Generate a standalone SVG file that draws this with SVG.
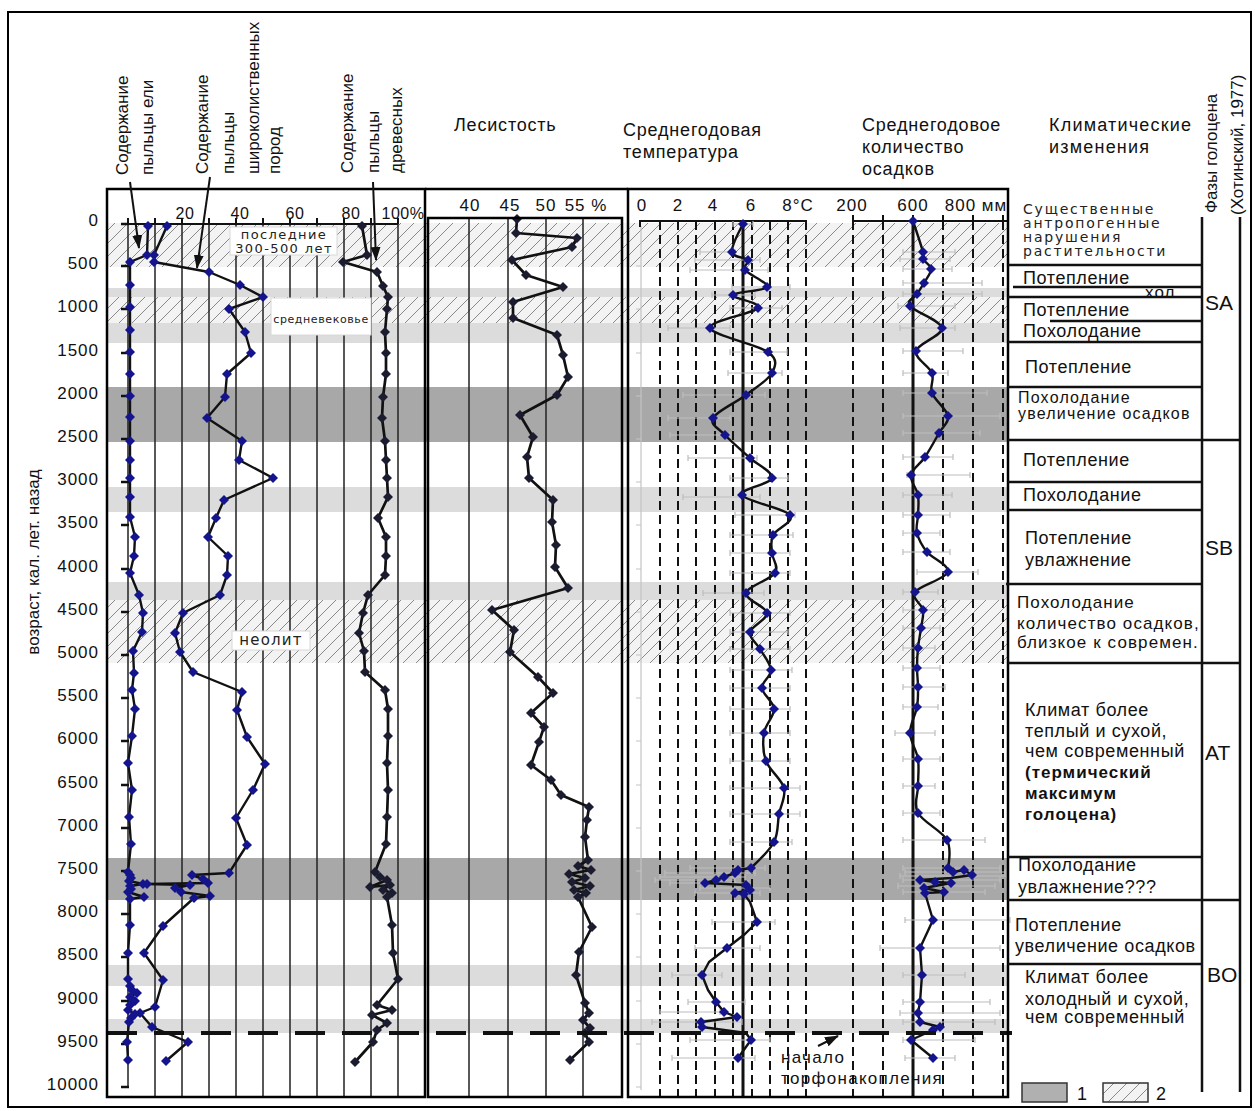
<svg xmlns="http://www.w3.org/2000/svg" width="1255" height="1111" viewBox="0 0 1255 1111">
<style>
.t{font-family:"Liberation Sans",Arial,sans-serif;fill:#111}
.h{font-size:18px;letter-spacing:0.8px}
.ax{font-size:17px;letter-spacing:1px}
.rot{font-size:17px}
.w{font-family:"DejaVu Sans",sans-serif;fill:#222}
.c18{font-size:18px;letter-spacing:0.6px}
.c17{font-size:17px;letter-spacing:1.1px}
.b{font-weight:bold;font-size:17px;letter-spacing:1px}
.grid{stroke:#222;stroke-width:1.5;fill:none}
.dash{stroke:#111;stroke-width:2;stroke-dasharray:9 5;fill:none}
.frame{fill:none;stroke:#000;stroke-width:2.5}
.err{stroke:#bdbdbd;stroke-width:1.2;fill:none}
.ln{fill:none;stroke:#111;stroke-width:2.4;stroke-linejoin:round}
.mb{marker-start:url(#mb);marker-mid:url(#mb);marker-end:url(#mb)}
.mk{marker-start:url(#mk);marker-mid:url(#mk);marker-end:url(#mk)}
.nol{fill:none;stroke:none}
.lbl{fill:#fff;stroke:#d8d8d8;stroke-width:1}
</style>
<defs>
<pattern id="hatch" patternUnits="userSpaceOnUse" width="13" height="13">
<rect width="13" height="13" fill="#f3f3f3"/>
<path d="M-1,14 L14,-1 M-2,2 L2,-2 M11,15 L15,11" stroke="#8a8a8a" stroke-width="1"/>
</pattern>
<marker id="mb" viewBox="0 0 10 10" refX="5" refY="5" markerWidth="10" markerHeight="10" markerUnits="userSpaceOnUse"><path d="M5,0L10,5L5,10L0,5Z" fill="#14148c"/></marker>
<marker id="mk" viewBox="0 0 10 10" refX="5" refY="5" markerWidth="10" markerHeight="10" markerUnits="userSpaceOnUse"><path d="M5,0L10,5L5,10L0,5Z" fill="#1c1c30"/></marker>
<marker id="arr" viewBox="0 0 14 10" refX="13" refY="5" markerWidth="14" markerHeight="10" orient="auto" markerUnits="userSpaceOnUse"><path d="M0,0L14,5L0,10Z" fill="#111"/></marker>
</defs>
<rect width="1255" height="1111" fill="#fff"/>

<g id="bands">
<rect x="107" y="223" width="901" height="44" fill="url(#hatch)"/>
<rect x="107" y="288" width="901" height="9" fill="#dcdcdc"/>
<rect x="107" y="297" width="901" height="26" fill="url(#hatch)"/>
<rect x="107" y="323" width="901" height="20" fill="#dcdcdc"/>
<rect x="107" y="387" width="901" height="55" fill="#a8a8a8"/>
<rect x="107" y="487" width="901" height="25" fill="#dcdcdc"/>
<rect x="107" y="582" width="901" height="18" fill="#dcdcdc"/>
<rect x="107" y="600" width="901" height="63" fill="url(#hatch)"/>
<rect x="107" y="858" width="901" height="42" fill="#a8a8a8"/>
<rect x="107" y="965" width="901" height="21" fill="#dcdcdc"/>
<rect x="107" y="1019" width="901" height="14" fill="#dcdcdc"/>
</g>

<g id="pollen-panel">
<path class="grid" d="M155,224V1097M182,224V1097M209,224V1097M236,224V1097M263,224V1097M290,224V1097M317,224V1097M344,224V1097M371,224V1097M398,224V1097M128,224V1087"/>
<path d="M128,224H398M128,218V224M155,218V224M182,218V224M209,218V224M236,218V224M263,218V224M290,218V224M317,218V224M344,218V224M371,218V224M398,218V224" stroke="#111" stroke-width="2" fill="none"/>
<path d="M121,224H129M121,266H129M121,309H129M121,353H129M121,396H129M121,439H129M121,482H129M121,525H129M121,569H129M121,612H129M121,655H129M121,698H129M121,741H129M121,785H129M121,828H129M121,871H129M121,914H129M121,957H129M121,1001H129M121,1044H129M121,1087H129" stroke="#111" stroke-width="2.5"/>
<g class="t ax" text-anchor="middle" style="font-size:16px;letter-spacing:0.5px">
<text x="185" y="219">20</text><text x="240" y="219">40</text><text x="295" y="219">60</text><text x="351" y="219">80</text><text x="403" y="219">100%</text>
</g>
</g>

<g id="age-axis" class="t ax" text-anchor="end">
<text x="99" y="226">0</text><text x="99" y="269">500</text><text x="99" y="312">1000</text><text x="99" y="356">1500</text><text x="99" y="399">2000</text><text x="99" y="442">2500</text><text x="99" y="485">3000</text><text x="99" y="528">3500</text><text x="99" y="572">4000</text><text x="99" y="615">4500</text><text x="99" y="658">5000</text><text x="99" y="701">5500</text><text x="99" y="744">6000</text><text x="99" y="788">6500</text><text x="99" y="831">7000</text><text x="99" y="874">7500</text><text x="99" y="917">8000</text><text x="99" y="960">8500</text><text x="99" y="1004">9000</text><text x="99" y="1047">9500</text><text x="99" y="1090">10000</text>
</g>
<text class="t" style="font-size:17px" text-anchor="middle" transform="translate(39,562) rotate(-90)">возраст, кал. лет. назад</text>

<g id="forest-panel">
<path class="grid" d="M469,218V1097M508,218V1097M546,218V1097M583,218V1097"/>
<g class="t ax" text-anchor="middle">
<text x="470" y="211">40</text><text x="510" y="211">45</text><text x="546" y="211">50</text><text x="586" y="211">55 %</text>
</g>
</g>

<g id="climate-panel">
<path class="dash" d="M660,221V1096M678,221V1096M696,221V1096M715,221V1096M733,221V1096M752,221V1096M770,221V1096M788,221V1096M806,221V1096M853,221V1096M883,221V1096M943,221V1096M973,221V1096M1003,221V1096"/>
<path d="M641,226V1090M636,266H641M636,309H641M636,353H641M636,396H641M636,439H641M636,482H641M636,525H641M636,569H641M636,612H641M636,655H641M636,698H641M636,741H641M636,785H641M636,828H641M636,871H641M636,914H641M636,957H641M636,1001H641M636,1044H641M636,1087H641" stroke="#c4c4c4" stroke-width="1.2" fill="none"/>
<path d="M743,221V1097M913,221V1097" stroke="#111" stroke-width="3"/>
<path d="M640,227V221H807M853,221H1007M853,215V221M883,215V221M913,215V221M943,215V221M973,215V221M1003,215V221" stroke="#111" stroke-width="2" fill="none"/>
<g class="t ax" text-anchor="middle">
<text x="642" y="211">0</text><text x="678" y="211">2</text><text x="713" y="211">4</text><text x="751" y="211">6</text><text x="798" y="211">8°C</text><text x="852" y="211">200</text><text x="913" y="211">600</text><text x="976" y="211">800 мм</text>
</g>
<path class="err" d="M733,221v6m0,-3H753m0,-3v6M700,249v6m0,-3H735m0,-3v6M695,257v6m0,-3H760m0,-3v6M690,267v6m0,-3H768m0,-3v6M732,284v6m0,-3H790m0,-3v6M712,292v6m0,-3H755m0,-3v6M730,305v6m0,-3H782m0,-3v6M668,325v6m0,-3H730m0,-3v6M730,349v6m0,-3H787m0,-3v6M728,370v6m0,-3H782m0,-3v6M683,392v6m0,-3H765m0,-3v6M668,415v6m0,-3H730m0,-3v6M670,432v6m0,-3H730m0,-3v6M688,455v6m0,-3H757m0,-3v6M730,475v6m0,-3H788m0,-3v6M683,494v6m0,-3H760m0,-3v6M735,512v6m0,-3H795m0,-3v6M730,532v6m0,-3H793m0,-3v6M730,550v6m0,-3H790m0,-3v6M730,570v6m0,-3H790m0,-3v6M703,590v6m0,-3H764m0,-3v6M730,610v6m0,-3H790m0,-3v6M730,629v6m0,-3H788m0,-3v6M730,646v6m0,-3H790m0,-3v6M730,667v6m0,-3H792m0,-3v6M730,685v6m0,-3H790m0,-3v6M730,706v6m0,-3H790m0,-3v6M730,730v6m0,-3H790m0,-3v6M730,758v6m0,-3H790m0,-3v6M730,785v6m0,-3H800m0,-3v6M730,811v6m0,-3H800m0,-3v6M730,839v6m0,-3H792m0,-3v6M690,865v6m0,-3H765m0,-3v6M665,870v6m0,-3H755m0,-3v6M660,874v6m0,-3H745m0,-3v6M655,877v6m0,-3H735m0,-3v6M670,880v6m0,-3H748m0,-3v6M700,885v6m0,-3H770m0,-3v6M695,890v6m0,-3H760m0,-3v6M712,919v6m0,-3H775m0,-3v6M695,945v6m0,-3H760m0,-3v6M672,972v6m0,-3H722m0,-3v6M688,999v6m0,-3H745m0,-3v6M660,1009v6m0,-3H720m0,-3v6M652,1019v6m0,-3H742m0,-3v6M690,1037v6m0,-3H770m0,-3v6M672,1055v6m0,-3H755m0,-3v6"/>
<path class="err" d="M903,249v6m0,-3H955m0,-3v6M900,256v6m0,-3H950m0,-3v6M903,266v6m0,-3H952m0,-3v6M903,280v6m0,-3H982m0,-3v6M903,291v6m0,-3H982m0,-3v6M898,303v6m0,-3H955m0,-3v6M900,325v6m0,-3H955m0,-3v6M903,348v6m0,-3H963m0,-3v6M903,370v6m0,-3H948m0,-3v6M903,390v6m0,-3H987m0,-3v6M903,413v6m0,-3H1000m0,-3v6M903,430v6m0,-3H980m0,-3v6M903,454v6m0,-3H953m0,-3v6M907,472v6m0,-3H970m0,-3v6M903,492v6m0,-3H952m0,-3v6M903,512v6m0,-3H950m0,-3v6M903,530v6m0,-3H940m0,-3v6M903,549v6m0,-3H950m0,-3v6M917,569v6m0,-3H978m0,-3v6M903,589v6m0,-3H938m0,-3v6M903,607v6m0,-3H945m0,-3v6M903,625v6m0,-3H940m0,-3v6M903,645v6m0,-3H935m0,-3v6M903,665v6m0,-3H940m0,-3v6M903,684v6m0,-3H945m0,-3v6M903,704v6m0,-3H938m0,-3v6M895,730v6m0,-3H935m0,-3v6M903,756v6m0,-3H940m0,-3v6M903,783v6m0,-3H935m0,-3v6M903,810v6m0,-3H940m0,-3v6M903,837v6m0,-3H985m0,-3v6M903,865v6m0,-3H1000m0,-3v6M905,869v6m0,-3H1005m0,-3v6M900,873v6m0,-3H1008m0,-3v6M903,877v6m0,-3H1000m0,-3v6M898,883v6m0,-3H995m0,-3v6M903,889v6m0,-3H985m0,-3v6M905,917v6m0,-3H1010m0,-3v6M880,945v6m0,-3H1000m0,-3v6M903,972v6m0,-3H965m0,-3v6M903,999v6m0,-3H990m0,-3v6M900,1010v6m0,-3H1000m0,-3v6M903,1019v6m0,-3H995m0,-3v6M903,1037v6m0,-3H975m0,-3v6M905,1055v6m0,-3H955m0,-3v6"/>
</g>

<g id="series">
<polyline class="ln mb" points="148,226 147,255 130,262 130,285 130,307 130,330 130,352 130,374 130,396 130,417 130,441 130,460 130,478 130,497 130,517 135,537 134,556 130,573 139,595 143,613 142,632 133,651 134,673 132,690 135,709 132,736 128,763 132,790 129,817 131,844 128,872 130,875 131,878 129,881 143,884 130,886 131,889 128,892 144,897 130,899 130,925 128,953 128,979 130,986 132,990 137,993 130,997 135,1001 130,1005 128,1010 135,1014 131,1018 129,1022 127,1042 128,1060"/>
<polyline class="ln mb" points="167,226 154,255 154,262 209,272 240,285 263,297 229,309 245,332 251,353 227,374 225,397 207,418 242,441 239,460 273,478 224,500 216,518 208,537 228,556 227,575 220,595 183,613 175,633 180,652 193,672 242,692 237,710 247,737 265,764 253,790 236,818 247,845 229,873 192,875 203,879 208,883 147,884 190,885 175,888 181,892 210,896 194,898 163,926 144,953 163,980 155,1007 140,1013 152,1027 188,1042 166,1061"/>
<polyline class="ln mk" style="stroke-width:2.7" points="362,226 367,255 343,262 377,272 383,286 388,297 387,309 385,332 386,353 386,374 383,397 382,418 385,441 386,460 387,478 388,497 378,518 386,537 386,556 385,575 368,595 363,613 359,633 364,651 365,672 385,690 388,709 388,736 387,763 388,790 387,817 386,844 375,872 380,877 387,880 370,887 390,885 383,890 392,893 387,897 392,925 393,953 398,979 377,1005 392,1010 372,1015 387,1023 377,1030 373,1042 355,1062"/>
<polyline class="ln mk" style="stroke-width:2.7" points="517,219 516,233 577,238 572,247 512,260 526,275 563,287 513,302 513,318 557,335 563,355 568,377 557,395 520,415 533,437 527,457 529,478 553,500 552,522 556,545 555,567 568,588 492,610 514,630 510,652 538,677 553,693 531,713 544,727 539,742 531,765 551,780 561,795 589,807 587,820 585,837 588,860 578,866 591,870 569,874 585,878 572,882 590,886 574,890 586,893 578,897 592,927 579,952 576,975 585,1003 589,1013 583,1020 590,1028 585,1033 589,1042 570,1060"/>
<path class="ln" d="M743,224 C743,224 731.2,246 732,252 S745.8,257 748,260 S741.8,265.5 745,270 S769,282.8 767,287 S734.5,291.5 733,295 S761.8,302.5 758,308 S708.3,320.7 710,328 S757.7,344.5 768,352 S775.7,365.8 772,373 S755.8,387.5 746,395 S716.5,411.3 713,418 S718.8,428.3 725,435 S742.2,450.8 750,458 S773.3,471.8 772,478 S739,488.8 742,495 S784.8,508.3 790,515 S776,528.7 773,535 S771.7,546.7 772,553 S779.3,566.3 775,573 S747.3,586.3 746,593 S766.3,606.5 767,613 S751.2,626 750,632 S756.5,642.7 760,649 S770.7,663.5 771,670 S761.5,681.5 762,688 S773.7,701.5 774,709 S765.3,724.3 764,733 S762.7,751.8 766,761 S781.8,779.2 784,788 S780.7,805 779,814 S778.7,833 774,842 S751,868 751,868"/>
<polyline class="ln" points="751,868 738,870 735,873 724,877 716,880 705,883 746,885 750,890 735,893 744,894 750,902 757,922 745,934 727,948 709,962 702,975 708,990 716,1002 724,1012 737,1017 701,1022 702,1027 746,1033 751,1040 738,1058"/>
<polyline class="nol mb" points="743,224 732,252 748,260 745,270 767,287 733,295 758,308 710,328 768,352 772,373 746,395 713,418 725,435 750,458 772,478 742,495 790,515 773,535 772,553 775,573 746,593 767,613 750,632 760,649 771,670 762,688 774,709 764,733 766,761 784,788 779,814 774,842 751,868 738,870 735,873 724,877 716,880 705,883 746,885 750,890 735,893 744,894 757,922 727,948 702,975 716,1002 724,1012 737,1017 701,1022 702,1027 751,1040 738,1058"/>
<path class="ln" d="M913,221 C913,221 921.3,245.7 923,252 S921.7,256.2 923,259 S930.8,265 931,269 S926.3,278.8 924,283 S919.3,290.2 917,294 S905.8,300.3 910,306 S941,320.5 942,328 S917.7,343.5 916,351 S929.3,366 932,373 S929.3,385.8 932,393 S946.8,409.3 948,416 S942.8,426.2 939,433 S929.7,450 925,457 S912.2,468.7 911,475 S916.8,488.3 918,495 S918.2,508.7 918,515 S915.5,526.8 917,533 S921.8,545.5 927,552 S950,565.3 948,572 S919.2,585.7 915,592 S922,604 923,610 S921.8,621.7 921,628 S918.7,641.3 918,648 S917,661.5 917,668 S918,680.5 918,687 S918.3,699.3 917,707 S909.8,724.3 910,733 S916.7,750.2 918,759 S918,777 918,786 S913.2,804 918,813 S942,830.8 947,840 S948,868 948,868"/>
<polyline class="ln" points="948,868 953,872 964,870 972,875 951,878 920,880 935,882 951,883 924,888 944,892 925,893 933,920 920,948 922,975 920,1002 918,1013 920,1022 940,1027 933,1030 911,1040 933,1058"/>
<polyline class="nol mb" points="913,221 923,252 923,259 931,269 924,283 917,294 910,306 942,328 916,351 932,373 932,393 948,416 939,433 925,457 911,475 918,495 918,515 917,533 927,552 948,572 915,592 923,610 921,628 918,648 917,668 918,687 917,707 910,733 918,759 918,786 918,813 947,840 948,868 953,872 964,870 972,875 920,880 935,882 951,883 924,888 944,892 925,893 933,920 920,948 922,975 920,1002 918,1013 920,1022 940,1027 933,1030 911,1040 933,1058"/>
</g>

<g id="label-boxes">
<rect class="lbl" x="230" y="227" width="107" height="28"/>
<text class="w" style="font-size:13px;letter-spacing:1.4px" x="284" y="239" text-anchor="middle">последние</text>
<text class="w" style="font-size:13px;letter-spacing:1.4px" x="284" y="253" text-anchor="middle">300-500 лет</text>
<rect class="lbl" x="271" y="298" width="100" height="37"/>
<text class="w" style="font-size:11px;letter-spacing:0.6px" x="321" y="323" text-anchor="middle">средневековье</text>
<rect class="lbl" x="232" y="631" width="78" height="19"/>
<text class="w" style="font-size:15px;letter-spacing:1.2px" x="271" y="645" text-anchor="middle">неолит</text>
</g>

<g id="peat-line">
<path d="M107,1033H1012" stroke="#111" stroke-width="4" stroke-dasharray="30 17"/>
<text class="t" style="font-size:17px;letter-spacing:1.3px" x="781" y="1063">начало</text>
<text class="t" style="font-size:17px;letter-spacing:1.3px" x="781" y="1084">торфонакопления</text>
<path d="M818,1046L838,1036" stroke="#111" stroke-width="2" marker-end="url(#arr)"/>
</g>

<g id="frames">
<rect class="frame" x="8" y="12" width="1243" height="1095" style="stroke-width:2"/>
<rect class="frame" x="107" y="189" width="318" height="908"/>
<path class="frame" d="M425,189H628"/>
<rect class="frame" x="428" y="218" width="194" height="879"/>
<rect class="frame" x="628" y="189" width="380" height="908"/>
</g>

<g id="headers" class="t">
<text class="rot" transform="translate(128,175) rotate(-90)">Содержание</text>
<text class="rot" transform="translate(153,175) rotate(-90)">пыльцы ели</text>
<text class="rot" transform="translate(208,174) rotate(-90)">Содержание</text>
<text class="rot" transform="translate(234,174) rotate(-90)">пыльцы</text>
<text class="rot" transform="translate(259,174) rotate(-90)">широколиственных</text>
<text class="rot" transform="translate(280,174) rotate(-90)">пород</text>
<text class="rot" transform="translate(353,173) rotate(-90)">Содержание</text>
<text class="rot" transform="translate(379,173) rotate(-90)">пыльцы</text>
<text class="rot" transform="translate(402,173) rotate(-90)">древесных</text>
<text class="h" x="454" y="131">Лесистость</text>
<text class="h" x="623" y="136">Среднегодовая</text>
<text class="h" x="623" y="158">температура</text>
<text class="h" x="862" y="131">Среднегодовое</text>
<text class="h" x="862" y="153">количество</text>
<text class="h" x="862" y="175">осадков</text>
<text class="h" x="1049" y="131" style="letter-spacing:1.2px">Климатические</text>
<text class="h" x="1049" y="153" style="letter-spacing:1.2px">изменения</text>
<text class="rot" transform="translate(1217,213) rotate(-90)">Фазы голоцена</text>
<text class="rot" transform="translate(1243,215) rotate(-90)">(Хотинский, 1977)</text>
</g>

<g id="header-arrows" stroke="#111" stroke-width="2" fill="none">
<path d="M130,182L139,248" marker-end="url(#arr)"/>
<path d="M210,177L197,268" marker-end="url(#arr)"/>
<path d="M373,182L376,260" marker-end="url(#arr)"/>
</g>

<g id="climate-changes" class="t">
<text class="w" style="font-size:14px;letter-spacing:1.8px" x="1023" y="214">Существенные</text>
<text class="w" style="font-size:14px;letter-spacing:1.8px" x="1023" y="228">антропогенные</text>
<text class="w" style="font-size:14px;letter-spacing:1.8px" x="1023" y="242">нарушения</text>
<text class="w" style="font-size:14px;letter-spacing:1.8px" x="1023" y="256">растительности</text>
<text class="c18" x="1023" y="284">Потепление</text>
<text class="c17" x="1145" y="298">хол.</text>
<text class="c18" x="1023" y="316">Потепление</text>
<text class="c18" x="1023" y="337">Похолодание</text>
<text class="c18" x="1025" y="373">Потепление</text>
<text style="font-size:16px;letter-spacing:1.2px" x="1018" y="403">Похолодание</text>
<text style="font-size:16px;letter-spacing:1.2px" x="1018" y="419">увеличение осадков</text>
<text class="c18" x="1023" y="466">Потепление</text>
<text class="c18" x="1023" y="501">Похолодание</text>
<text class="c18" x="1025" y="544">Потепление</text>
<text class="c18" x="1025" y="566">увлажнение</text>
<text class="c17" x="1017" y="608">Похолодание</text>
<text class="c17" x="1017" y="629">количество осадков,</text>
<text class="c17" x="1017" y="648">близкое к современ.</text>
<text class="c18" x="1025" y="716">Климат более</text>
<text class="c18" x="1025" y="737">теплый и сухой,</text>
<text class="c18" x="1025" y="757">чем современный</text>
<text class="b" x="1025" y="778">(термический</text>
<text class="b" x="1025" y="799">максимум</text>
<text class="b" x="1025" y="820">голоцена)</text>
<text class="c18" x="1018" y="871">Похолодание</text>
<text class="c18" x="1018" y="893">увлажнение???</text>
<text class="c18" x="1015" y="931">Потепление</text>
<text class="c18" x="1015" y="952">увеличение осадков</text>
<text class="c18" x="1025" y="983">Климат более</text>
<text class="c18" x="1025" y="1005">холодный и сухой,</text>
<text class="c18" x="1025" y="1023">чем современный</text>
<path d="M1008,265H1203M1013,287H1202M1008,297H1203M1050,321H1202M1008,342H1203M1008,387H1203M1008,440H1240M1008,482H1203M1008,510H1203M1006,584H1203M1008,663H1240M1008,857H1203M1008,900H1240M1008,964H1203M1202,217V1092M1240,217V1092" stroke="#111" stroke-width="2.5" fill="none"/>
</g>

<g id="phases" class="t" style="font-size:21px">
<text x="1205" y="310">SA</text>
<text x="1205" y="555">SB</text>
<text x="1205" y="760">AT</text>
<text x="1207" y="982">BO</text>
</g>

<g id="legend">
<rect x="1022" y="1083" width="45" height="19" fill="#b0b0b0" stroke="#333" stroke-width="1.5"/>
<text class="t" style="font-size:18px" x="1077" y="1100">1</text>
<rect x="1103" y="1083" width="45" height="19" fill="url(#hatch)" stroke="#333" stroke-width="1.5"/>
<text class="t" style="font-size:18px" x="1156" y="1100">2</text>
</g>
</svg>
